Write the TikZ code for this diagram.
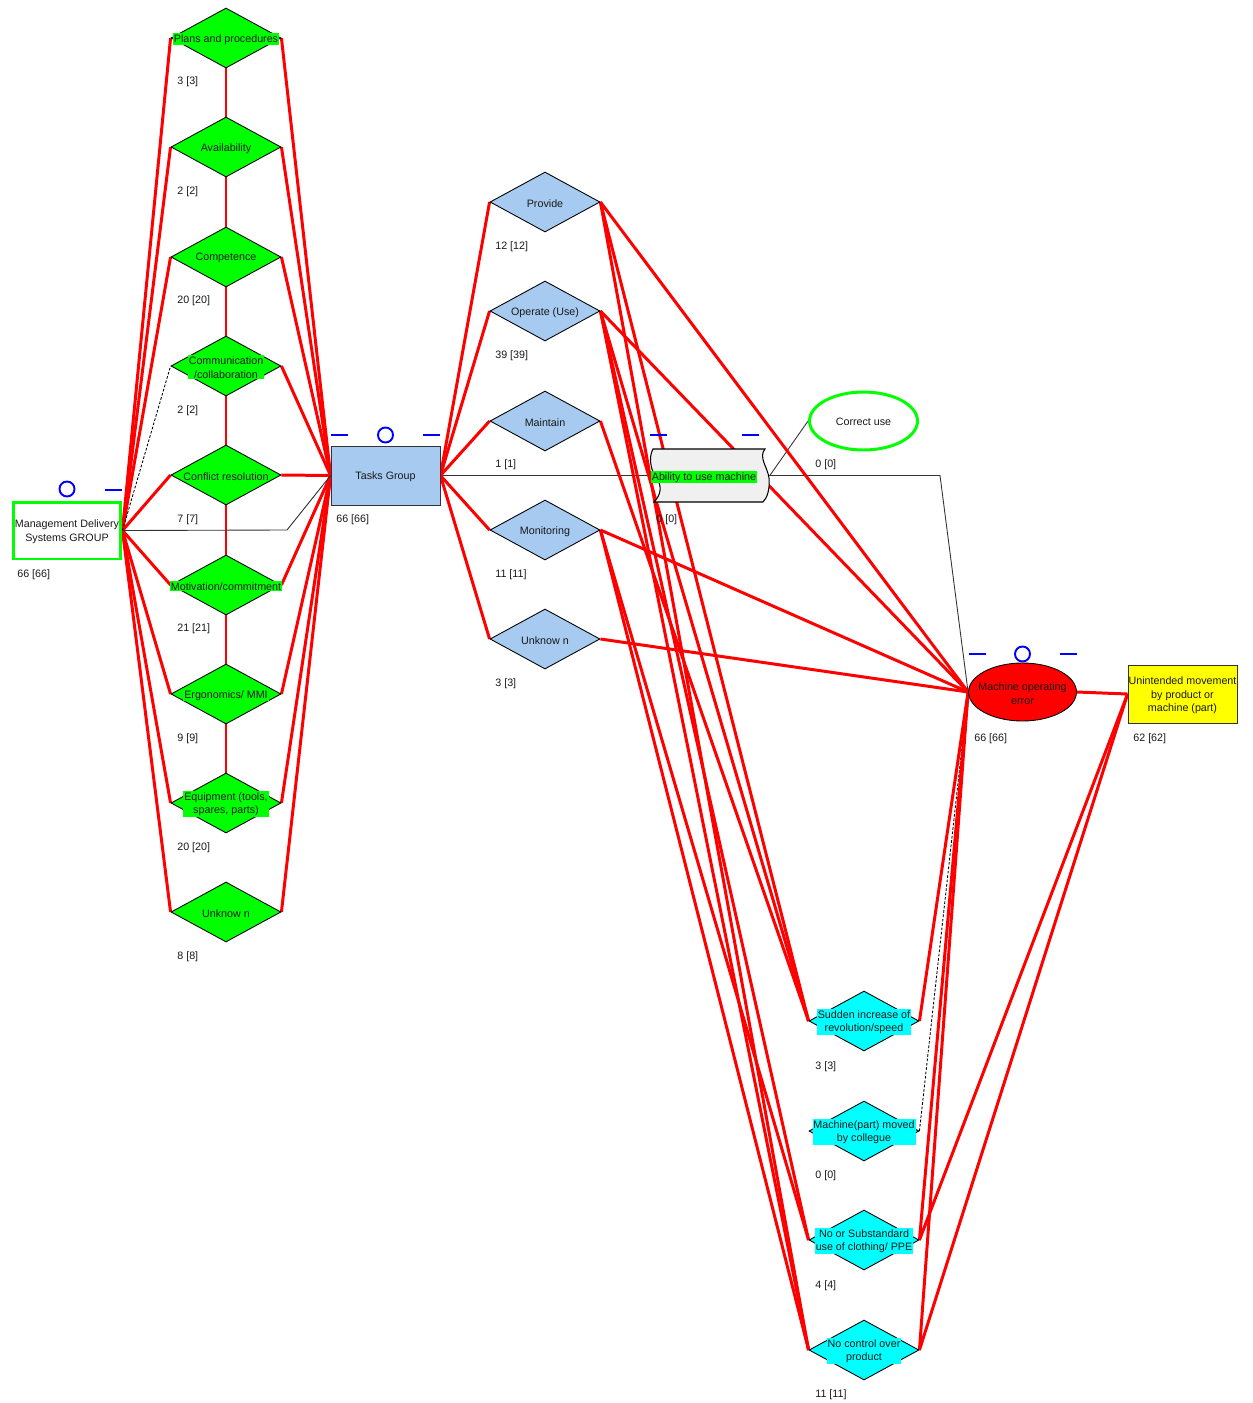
\documentclass[tikz,border=0pt]{standalone}
\usepackage{fontspec}
\setmainfont{Liberation Sans}
\usetikzlibrary{shapes.geometric}
\pgfdeclarelayer{bg}
\pgfsetlayers{bg,main}
\definecolor{gr}{RGB}{0,255,0}
\definecolor{lb}{RGB}{166,202,240}
\definecolor{cy}{RGB}{0,255,255}
\definecolor{rd}{RGB}{255,0,0}
\definecolor{ye}{RGB}{255,255,0}
\definecolor{abf}{RGB}{240,240,240}
\definecolor{bl}{RGB}{0,0,255}
\definecolor{tx}{RGB}{25,25,25}
\begin{document}
\begin{tikzpicture}[x=0.02cm,y=-0.02cm,
  every node/.style={font=\fontsize{6.1}{7.9}\selectfont, text=tx},
  dia/.style={diamond, aspect=1.83, minimum width=2.2cm, minimum height=1.2cm, inner sep=0pt, draw=black, line width=0.5pt},
  gd/.style={dia, fill=gr},
  bd/.style={dia, fill=lb},
  cd/.style={dia, fill=cy},
  hl/.style={inner sep=0.5pt, align=center, yshift=-0.7pt},
  cnt/.style={anchor=west, inner sep=0pt},
  rl/.style={draw=rd, line width=1.7pt},
  thinl/.style={draw=black!80, line width=0.5pt},
  dsh/.style={draw=black, line width=0.5pt, dash pattern=on 1.5pt off 1pt},
  deco/.style={draw=bl, line width=1.1pt},
  box/.style={rectangle, minimum width=2.18cm, minimum height=1.18cm, inner sep=0pt, align=center}
]
\useasboundingbox (0,0) rectangle (1253,1403);

% Management
\node[box, draw=gr, line width=1.7pt, minimum width=2.16cm, minimum height=1.14cm, label={[hl]center:Management Delivery\\Systems GROUP}] (m) at (67,530.5) {};
\node[cnt] (mc) at (17,575) {66 [66]};

% green diamonds
\node[gd, label={[hl, fill=gr]center:Plans and procedures}] (g1) at (226,38) {};
\node[gd, label={[hl, fill=gr]center:Availability}] (g2) at (226,147) {};
\node[gd, label={[hl, fill=gr]center:Competence}] (g3) at (226,257) {};
\node[gd, label={[hl, fill=gr]center:Communication\\/collaboration}] (g4) at (226,366) {};
\node[gd, label={[hl, fill=gr]center:Conflict resolution}] (g5) at (226,475) {};
\node[gd, label={[hl, fill=gr]center:Motivation/commitment}] (g6) at (226,585) {};
\node[gd, label={[hl, fill=gr]center:Ergonomics/ MMI}] (g7) at (226,694) {};
\node[gd, label={[hl, fill=gr]center:Equipment (tools,\\spares, parts)}] (g8) at (226,803) {};
\node[gd, label={[hl, fill=gr]center:Unknow n}] (g9) at (226,912) {};
\node[cnt] (g1c) at (177,82) {3 [3]};
\node[cnt] (g2c) at (177,192) {2 [2]};
\node[cnt] (g3c) at (177,301) {20 [20]};
\node[cnt] (g4c) at (177,411) {2 [2]};
\node[cnt] (g5c) at (177,520) {7 [7]};
\node[cnt] (g6c) at (177,629) {21 [21]};
\node[cnt] (g7c) at (177,739) {9 [9]};
\node[cnt] (g8c) at (177,848) {20 [20]};
\node[cnt] (g9c) at (177,957) {8 [8]};

% Tasks
\node[box, draw=black!80, line width=0.5pt, fill=lb, label={[hl]center:Tasks Group}] (t) at (385.5,475.5) {};
\node[cnt] (tc) at (336,520) {66 [66]};

% blue diamonds
\node[bd, label={[hl]center:Provide}] (b1) at (545,202) {};
\node[bd, label={[hl]center:Operate (Use)}] (b2) at (545,311) {};
\node[bd, label={[hl]center:Maintain}] (b3) at (545,421) {};
\node[bd, label={[hl]center:Monitoring}] (b4) at (545,530) {};
\node[bd, label={[hl]center:Unknow n}] (b5) at (545,639) {};
\node[cnt] (b1c) at (495,247) {12 [12]};
\node[cnt] (b2c) at (495,356) {39 [39]};
\node[cnt] (b3c) at (495,465) {1 [1]};
\node[cnt] (b4c) at (495,575) {11 [11]};
\node[cnt] (b5c) at (495,684) {3 [3]};

% Ability to use machine
\draw[draw=black, line width=0.6pt, fill=abf]
  (653,449) -- (765,449) .. controls (758,457) and (768,468) .. (769,478)
  .. controls (770,490) and (767,498) .. (763,502) -- (654,502)
  .. controls (661,495) and (662,486) .. (657,479)
  .. controls (651,471) and (648,458) .. (653,449) -- cycle;
\node[rectangle, minimum width=2.34cm, minimum height=1.06cm, inner sep=0pt] (ab) at (711,475.5) {};
\node[hl, fill=gr] (abt) at (704,476) {Ability to use machine};
\node[cnt] (abc) at (656,520) {0 [0]};

% Correct use
\node[ellipse, draw=gr, line width=1.7pt, minimum width=2.16cm, minimum height=1.16cm, inner sep=0pt, label={[hl]center:Correct use}] (cu) at (863.5,421) {};
\node[cnt] (cuc) at (815,465) {0 [0]};

% Machine operating error
\node[ellipse, draw=black, line width=0.5pt, fill=rd, minimum width=2.16cm, minimum height=1.16cm, inner sep=0pt, label={[hl]center:Machine operating\\error}] (me) at (1022.5,692) {};
\node[cnt] (mec) at (974,739) {66 [66]};

% Unintended movement
\node[box, draw=black!80, line width=0.5pt, fill=ye, minimum height=1.16cm, label={[hl]center:Unintended movement\\by product or\\machine (part)}] (u) at (1182.5,694) {};
\node[cnt] (uc) at (1133,739) {62 [62]};

% cyan diamonds
\node[cd, label={[hl, fill=cy]center:Sudden increase of\\revolution/speed}] (c1) at (864,1021) {};
\node[cd, label={[hl, fill=cy]center:Machine(part) moved\\by collegue}] (c2) at (864,1131) {};
\node[cd, label={[hl, fill=cy]center:No or Substandard\\use of clothing/ PPE}] (c3) at (864,1240) {};
\node[cd, label={[hl, fill=cy]center:No control over\\product}] (c4) at (864,1350) {};
\node[cnt] (c1c) at (815,1067) {3 [3]};
\node[cnt] (c2c) at (815,1176) {0 [0]};
\node[cnt] (c3c) at (815,1286) {4 [4]};
\node[cnt] (c4c) at (815,1395) {11 [11]};

% blue decorations
\draw[deco] (67,489) circle (7.5);
\draw[deco] (105,490) -- (122,490);
\draw[deco] (331,435) -- (348,435);
\draw[deco] (385.5,435) circle (7.5);
\draw[deco] (423,435) -- (440,435);
\draw[deco] (650,435) -- (667,435);
\draw[deco] (742,435) -- (759,435);
\draw[deco] (969,654) -- (986,654);
\draw[deco] (1022.5,654) circle (7.5);
\draw[deco] (1060,654) -- (1077,654);

\coordinate (k1) at (287,530);
\coordinate (k2) at (940,475.5);

\begin{pgfonlayer}{bg}
% management to green
\foreach \g in {g1,g2,g3,g5,g6,g7,g8,g9} \draw[rl] (m.east) -- (\g.west);
\draw[dsh] (m.east) -- (g4.west);
% green chain
\draw[rl] (g1.south) -- (g2.north);
\draw[rl] (g2.south) -- (g3.north);
\draw[rl] (g3.south) -- (g4.north);
\draw[rl] (g4.south) -- (g5.north);
\draw[rl] (g5.south) -- (g6.north);
\draw[rl] (g6.south) -- (g7.north);
\draw[rl] (g7.south) -- (g8.north);
% green to tasks
\foreach \g in {g1,g2,g3,g4,g5,g6,g7,g8,g9} \draw[rl] (\g.east) -- (t.west);
% thin links
\draw[thinl] (m.east) -- (k1) -- (t.west);
\draw[thinl] (t.east) -- (k2) -- (me.west);
\draw[thinl] (ab.east) -- (cu.west);
% tasks to blue
\foreach \b in {b1,b2,b3,b4,b5} \draw[rl] (t.east) -- (\b.west);
% blue to machine error
\foreach \b in {b1,b2,b4,b5} \draw[rl] (\b.east) -- (me.west);
% blue to cyan
\draw[rl] (b1.east) -- (c1.west);
\draw[rl] (b1.east) -- (c4.west);
\draw[rl] (b2.east) -- (c1.west);
\draw[rl] (b2.east) -- (c3.west);
\draw[rl] (b2.east) -- (c4.west);
\draw[rl] (b3.east) -- (c1.west);
\draw[rl] (b4.east) -- (c3.west);
\draw[rl] (b4.east) -- (c4.west);
% cyan to machine error / unintended
\draw[rl] (c1.east) -- (me.west);
\draw[dsh] (c2.east) -- (me.west);
\draw[rl] (c3.east) -- (me.west);
\draw[rl] (c4.east) -- (me.west);
\draw[rl] (c3.east) -- (u.west);
\draw[rl] (c4.east) -- (u.west);
\draw[rl] (me.east) -- (u.west);
\end{pgfonlayer}
\end{tikzpicture}
\end{document}
